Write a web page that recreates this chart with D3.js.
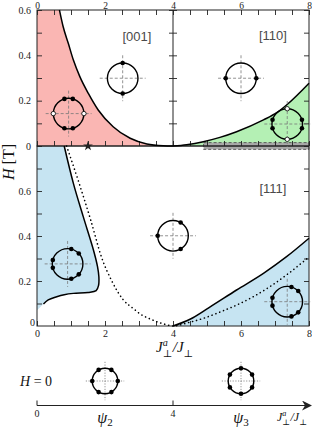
<!DOCTYPE html>
<html>
<head>
<meta charset="utf-8">
<script src="https://cdn.jsdelivr.net/npm/d3@7"></script>
<style>
  body { margin: 0; background: #fff; }
  svg { display: block; }
</style>
</head>
<body>
<svg id="chart"></svg>
<script>
const width = 312;
const height = 429;

// phase boundaries, points are [Ja/J, H]
const boundary001 = [[0.66,0.6],[0.77,0.526],[0.92,0.453],[1.07,0.379],[1.26,0.306],[1.51,0.232],[1.80,0.159],[2.24,0.085],[2.74,0.034],[3.23,0.009],[3.71,0.001],[4.0,0]];
const boundary110 = [[4.0,0],[4.4,0.006],[4.89,0.019],[5.38,0.038],[5.87,0.063],[6.66,0.115],[7.05,0.147],[7.34,0.181],[8.0,0.277]];
const boundary111Left = [[0.80,0.8],[1.07,0.634],[1.36,0.486],[1.66,0.338],[1.78,0.264],[1.82,0.219],[1.81,0.180],[1.74,0.157],[1.50,0.149],[1.07,0.145],[0.80,0.139],[0.58,0.130],[0.33,0.116],[0.19,0.098]];
const boundary111Right = [[4.0,0],[4.5,0.03],[5.06,0.082],[5.87,0.16],[6.66,0.234],[7.34,0.308],[8.0,0.39]];
const dotted111 = [[0.87,0.8],[1.24,0.634],[1.58,0.471],[1.9,0.305],[2.2,0.2],[2.54,0.116],[2.83,0.078],[3.05,0.052],[3.32,0.032],[3.6,0.015],[3.81,0.006],[4.0,0],[4.45,0.015],[4.89,0.034],[5.38,0.062],[5.87,0.093],[6.36,0.13],[6.85,0.175],[7.34,0.227],[8.0,0.307]];
const blueLeftCorner = [0, 0.07];
const grayBand = [4.9, 8.0, 0.015];   // x0, x1, half height in H
const starX = 1.5;

// spin configurations: center, angles of filled / open dots (deg)
const spinsTop = [
  { x: 0.93, h: 0.143, filled: [74, 106, 254, 286], open: [0, 180] },
  { x: 2.52, h: 0.299, filled: [90, 270], open: [] },
  { x: 6.0,  h: 0.299, filled: [0, 180], open: [] },
  { x: 7.36, h: 0.097, filled: [16, -16, 164, 196], open: [90, 270] }
];
const spinsBottom = [
  { x: 0.90, h: 0.276, filled: [76, 43, 165, 195, 284, 317], open: [] },
  { x: 4.0,  h: 0.401, filled: [60, 180, 300], open: [] },
  { x: 7.36, h: 0.108, filled: [74, 44, 165, 195, 286, 316], open: [] }
];
const spinsZero = [
  { x: 2, name: "2", filled: [0, 60, 120, 180, 240, 300] },
  { x: 6, name: "3", filled: [30, 90, 150, 210, 270, 330] }
];

const xLabels = [0, 2, 4, 6, 8];
const hLabelsTop = [0, 0.2, 0.4, 0.6];
const hLabelsBottom = [0.2, 0.4, 0.6];
const panelNames = [
  { text: "[001]", x: 2.94, h: 0.463, panel: "top" },
  { text: "[110]", x: 6.94, h: 0.468, panel: "top" },
  { text: "[111]", x: 6.94, h: 0.591, panel: "bottom" }
];

const serif = "'Liberation Serif', 'DejaVu Serif', serif";
const sans = "'Liberation Sans', Arial, sans-serif";

const svg = d3.select("#chart")
  .attr("width", width)
  .attr("height", height);

const x = d3.scaleLinear().domain([0, 8]).range([37, 309]);
const yTop = d3.scaleLinear().domain([0, 0.6]).range([146, 10]);
const yBot = d3.scaleLinear().domain([0, 0.8]).range([326, 146]);

const lineTop = d3.line().x(d => x(d[0])).y(d => yTop(d[1])).curve(d3.curveMonotoneX);
const lineBot = d3.line().x(d => x(d[0])).y(d => yBot(d[1])).curve(d3.curveMonotoneX);
const lineBotFree = d3.line().x(d => x(d[0])).y(d => yBot(d[1])).curve(d3.curveCatmullRom.alpha(0.5));

// fills
svg.append("path")
  .attr("d", lineTop(boundary001) + `L${x(0)},${yTop(0)}L${x(0)},${yTop(0.6)}Z`)
  .attr("fill", "#fab6b3");
svg.append("path")
  .attr("d", lineTop(boundary110) + `L${x(8)},${yTop(0)}Z`)
  .attr("fill", "#b4f0b4");
svg.append("path")
  .attr("d", lineBotFree(boundary111Left) + `L${x(blueLeftCorner[0])},${yBot(blueLeftCorner[1])}L${x(0)},${yBot(0.8)}Z`)
  .attr("fill", "#c6e4f2");
svg.append("path")
  .attr("d", lineBot(boundary111Right) + `L${x(8)},${yBot(0)}Z`)
  .attr("fill", "#c6e4f2");

// gray band along H = 0 of upper panel
svg.append("rect")
  .attr("x", x(grayBand[0]))
  .attr("y", yTop(grayBand[2]))
  .attr("width", x(grayBand[1]) - x(grayBand[0]))
  .attr("height", yTop(-grayBand[2]) - yTop(grayBand[2]))
  .attr("fill", "#a9a9a9")
  .attr("stroke", "#444")
  .attr("stroke-width", 0.8)
  .attr("stroke-dasharray", "3,2");

// axes
const xMinor = d3.range(0, 8.01, 0.5);
const hMinorTop = d3.range(0, 0.61, 0.1);
const hMinorBot = d3.range(0.1, 0.75, 0.1);
const fmtH = list => d => {
  const hit = list.find(v => Math.abs(v - d) < 1e-6);
  return hit === undefined ? "" : String(hit);
};
const fmtX = d => xLabels.includes(d) ? String(d) : "";

function styleAxis(g) {
  g.select(".domain").remove();
  g.selectAll("line").attr("stroke", "#222").attr("stroke-width", 0.9);
  g.selectAll("text").attr("font-family", serif).attr("font-size", 10).attr("fill", "#222");
}

svg.append("g").attr("transform", `translate(0,${yTop(0.6)})`)
  .call(d3.axisTop(x).tickValues(xMinor).tickSize(-5).tickPadding(1.5).tickFormat(fmtX))
  .call(styleAxis)
  .call(g => g.selectAll("text").attr("font-size", 9.5));
svg.append("g").attr("transform", `translate(0,${yTop(0)})`)
  .call(d3.axisBottom(x).tickValues(xMinor).tickSize(-5).tickFormat(""))
  .call(styleAxis);
svg.append("g").attr("transform", `translate(${x(0)},0)`)
  .call(d3.axisLeft(yTop).tickValues(hMinorTop).tickSize(-5).tickPadding(6).tickFormat(fmtH(hLabelsTop)))
  .call(styleAxis);
svg.append("g").attr("transform", `translate(${x(8)},0)`)
  .call(d3.axisRight(yTop).tickValues(hMinorTop).tickSize(-5).tickFormat(""))
  .call(styleAxis);
svg.append("g").attr("transform", `translate(${x(4)},0)`)
  .call(d3.axisLeft(yTop).tickValues(hMinorTop.slice(1)).tickSize(4).tickFormat(""))
  .call(styleAxis);
svg.append("g").attr("transform", `translate(${x(4)},0)`)
  .call(d3.axisRight(yTop).tickValues(hMinorTop.slice(1)).tickSize(4).tickFormat(""))
  .call(styleAxis);

svg.append("g").attr("transform", `translate(0,${yBot(0)})`)
  .call(d3.axisBottom(x).tickValues(xMinor).tickSize(-5).tickPadding(4).tickFormat(fmtX))
  .call(styleAxis);
svg.append("g").attr("transform", `translate(${x(0)},0)`)
  .call(d3.axisLeft(yBot).tickValues(hMinorBot).tickSize(-5).tickPadding(6).tickFormat(fmtH(hLabelsBottom)))
  .call(styleAxis);
svg.append("g").attr("transform", `translate(${x(8)},0)`)
  .call(d3.axisRight(yBot).tickValues(hMinorBot).tickSize(-5).tickFormat(""))
  .call(styleAxis);
svg.append("text")
  .attr("x", x(0) - 2).attr("y", yBot(0) - 0.5)
  .attr("text-anchor", "end")
  .attr("font-family", serif).attr("font-size", 10).attr("fill", "#222")
  .text("0");

// frames
svg.append("rect")
  .attr("x", x(0)).attr("y", yTop(0.6))
  .attr("width", x(8) - x(0)).attr("height", yTop(0) - yTop(0.6))
  .attr("fill", "none").attr("stroke", "#222").attr("stroke-width", 1);
svg.append("line")
  .attr("x1", x(4)).attr("x2", x(4)).attr("y1", yTop(0.6)).attr("y2", yTop(0))
  .attr("stroke", "#222").attr("stroke-width", 1);
svg.append("rect")
  .attr("x", x(0)).attr("y", yBot(0.8))
  .attr("width", x(8) - x(0)).attr("height", yBot(0) - yBot(0.8))
  .attr("fill", "none").attr("stroke", "#222").attr("stroke-width", 1);

// boundaries
svg.append("path").attr("d", lineTop(boundary001))
  .attr("fill", "none").attr("stroke", "#000").attr("stroke-width", 1.5);
svg.append("path").attr("d", lineTop(boundary110))
  .attr("fill", "none").attr("stroke", "#000").attr("stroke-width", 1.5);
svg.append("path").attr("d", lineBotFree(boundary111Left))
  .attr("fill", "none").attr("stroke", "#000").attr("stroke-width", 1.5);
svg.append("path").attr("d", lineBot(boundary111Right))
  .attr("fill", "none").attr("stroke", "#000").attr("stroke-width", 1.5);
svg.append("path").attr("d", lineBot(dotted111))
  .attr("fill", "none").attr("stroke", "#000").attr("stroke-width", 1.6)
  .attr("stroke-linecap", "round").attr("stroke-dasharray", "0.1,4");

// star
svg.append("path")
  .attr("d", d3.symbol(d3.symbolStar, 30)())
  .attr("transform", `translate(${x(starX)},${yTop(0)})`)
  .attr("fill", "#222");

// spin sketches
function drawSpin(cx, cy, r, filled, open, dash) {
  const g = svg.append("g").attr("transform", `translate(${cx},${cy})`);
  const ext = r * 1.5;
  [[-ext, 0, ext, 0], [0, -ext, 0, ext]].forEach(l => {
    g.append("line")
      .attr("x1", l[0]).attr("y1", l[1]).attr("x2", l[2]).attr("y2", l[3])
      .attr("stroke", "#777").attr("stroke-width", 0.8)
      .attr("stroke-dasharray", dash);
  });
  g.append("circle").attr("r", r)
    .attr("fill", "none").attr("stroke", "#000").attr("stroke-width", 1.4);
  const pos = a => [r * Math.cos(a * Math.PI / 180), -r * Math.sin(a * Math.PI / 180)];
  g.selectAll(".f").data(filled).enter().append("circle")
    .attr("cx", a => pos(a)[0]).attr("cy", a => pos(a)[1])
    .attr("r", 2.3).attr("fill", "#000");
  g.selectAll(".o").data(open).enter().append("circle")
    .attr("cx", a => pos(a)[0]).attr("cy", a => pos(a)[1])
    .attr("r", 2.2).attr("fill", "#fff").attr("stroke", "#000").attr("stroke-width", 0.8);
}

spinsTop.forEach(s => drawSpin(x(s.x), yTop(s.h), 15.3, s.filled, s.open, "3,2"));
spinsBottom.forEach(s => drawSpin(x(s.x), yBot(s.h), 15.3, s.filled, s.open, "3,2"));

// panel names
panelNames.forEach(p => {
  svg.append("text")
    .attr("x", x(p.x))
    .attr("y", p.panel === "top" ? yTop(p.h) : yBot(p.h))
    .attr("text-anchor", "middle")
    .attr("font-family", sans).attr("font-size", 13).attr("fill", "#4a4a4a")
    .text(p.text);
});

// axis titles
function ratioLabel(px, py, size) {
  const t = svg.append("text").attr("x", px).attr("y", py)
    .attr("font-family", serif).attr("font-size", size).attr("font-style", "italic").attr("fill", "#111");
  const s = size * 0.68;
  t.append("tspan").text("J");
  t.append("tspan").attr("font-size", s).attr("dy", -size * 0.4).text("a");
  t.append("tspan").attr("font-size", s).attr("font-style", "normal").attr("dx", -s * 0.5).attr("dy", size * 0.7).text("⊥");
  t.append("tspan").attr("dy", -size * 0.3).attr("dx", 0.5).text("/");
  t.append("tspan").text("J");
  t.append("tspan").attr("font-size", s).attr("font-style", "normal").attr("dy", size * 0.3).text("⊥");
  return t;
}
ratioLabel(156, 352, 15);

const yTitle = svg.append("text")
  .attr("transform", "translate(14,162) rotate(-90)")
  .attr("text-anchor", "middle")
  .attr("font-family", serif).attr("font-size", 16).attr("fill", "#111");
yTitle.append("tspan").attr("font-style", "italic").text("H");
yTitle.append("tspan").text(" [T]");

// H = 0 strip
const zeroY = 381;
const hz = svg.append("text").attr("x", 20).attr("y", zeroY + 5)
  .attr("font-family", serif).attr("font-size", 14).attr("fill", "#111");
hz.append("tspan").attr("font-style", "italic").text("H");
hz.append("tspan").text(" = 0");

spinsZero.forEach(s => drawSpin(x(s.x), zeroY, 12.8, s.filled, [], "1.2,1.5"));

const arrowY = 405.5;
svg.append("defs").append("marker")
  .attr("id", "arrow").attr("viewBox", "0 0 10 10")
  .attr("refX", 9).attr("refY", 5)
  .attr("markerWidth", 17).attr("markerHeight", 10).attr("markerUnits", "userSpaceOnUse")
  .attr("orient", "auto")
  .append("path").attr("d", "M0,0 L10,5 L0,10 L3,5 Z").attr("fill", "#222");
svg.append("line")
  .attr("x1", x(0)).attr("x2", 311).attr("y1", arrowY).attr("y2", arrowY)
  .attr("stroke", "#222").attr("stroke-width", 1.2)
  .attr("marker-end", "url(#arrow)");
[0, 4].forEach(v => {
  svg.append("line")
    .attr("x1", x(v)).attr("x2", x(v)).attr("y1", arrowY - 5).attr("y2", arrowY)
    .attr("stroke", "#222").attr("stroke-width", 1);
  svg.append("text")
    .attr("x", x(v)).attr("y", arrowY + 11.5)
    .attr("text-anchor", "middle")
    .attr("font-family", serif).attr("font-size", 10).attr("fill", "#222")
    .text(v);
});
spinsZero.forEach(s => {
  const t = svg.append("text").attr("x", x(s.x)).attr("y", 423)
    .attr("text-anchor", "middle")
    .attr("font-family", serif).attr("font-size", 16).attr("fill", "#111");
  t.append("tspan").attr("font-style", "italic").text("ψ");
  t.append("tspan").attr("font-size", 11).attr("dy", 3).text(s.name);
});
ratioLabel(277, 421, 12);
</script>
</body>
</html>
